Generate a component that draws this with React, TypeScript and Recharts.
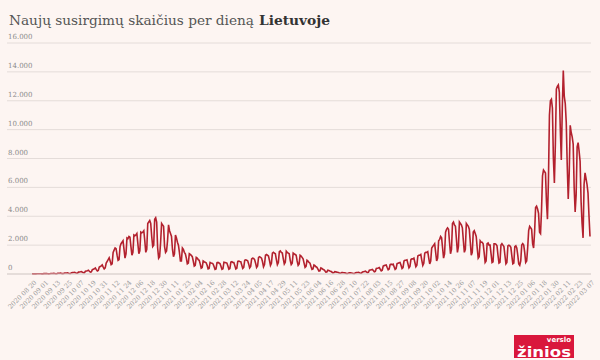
import React from 'react';
import { LineChart, Line, XAxis, YAxis, CartesianGrid } from 'recharts';

// first day of the series, one point per day
const startDay = Date.UTC(2020, 7, 20);

// daily new cases, one row = one week starting on a Thursday
const cases: number[] = [
  14, 12, 9, 6, 8, 17, 21,
  18, 22, 16, 10, 9, 24, 30,
  27, 31, 22, 12, 14, 33, 38,
  35, 42, 30, 18, 20, 48, 52,
  55, 61, 40, 25, 30, 66, 70,
  72, 80, 58, 38, 42, 90, 96,
  101, 112, 80, 52, 60, 130, 140,
  150, 171, 120, 85, 90, 190, 210,
  230, 260, 190, 130, 150, 300, 330,
  360, 420, 300, 210, 250, 480, 520,
  560, 630, 480, 350, 420, 760, 880,
  1000, 1120, 900, 650, 700, 1500, 1650,
  1800, 1750, 1300, 950, 1000, 1900, 2100,
  2200, 2300, 1700, 1100, 1400, 2500, 2450,
  2600, 2550, 1900, 1300, 1500, 2700, 2650,
  2700, 2800, 2100, 1400, 1600, 2900, 2850,
  2900, 3000, 2300, 1500, 1700, 3500, 3600,
  3700, 3500, 2600, 1900, 2000, 3800, 3900,
  3600, 1800, 1100, 1200, 2200, 3500, 3400,
  3300, 1900, 1500, 1600, 2300, 3400, 3000,
  2800, 2600, 1700, 1200, 1400, 2700, 2500,
  2200, 2000, 1500, 900, 900, 1800, 1700,
  1500, 1400, 1100, 700, 750, 1400, 1350,
  1300, 1200, 900, 550, 600, 1150, 1100,
  1000, 950, 700, 400, 450, 900, 850,
  820, 780, 600, 350, 380, 800, 760,
  750, 700, 520, 320, 350, 780, 800,
  760, 720, 540, 320, 360, 820, 800,
  780, 760, 560, 330, 380, 830, 850,
  800, 790, 580, 350, 400, 880, 900,
  870, 850, 620, 380, 450, 950, 980,
  950, 920, 700, 420, 520, 1050, 1100,
  1080, 1000, 750, 450, 550, 1150, 1200,
  1150, 1100, 850, 500, 650, 1300, 1350,
  1300, 1250, 950, 600, 750, 1450, 1500,
  1450, 1400, 1000, 650, 800, 1550, 1600,
  1500, 1450, 1050, 700, 820, 1580, 1500,
  1450, 1400, 950, 650, 750, 1450, 1400,
  1350, 1300, 900, 600, 700, 1300, 1250,
  1150, 1050, 750, 450, 520, 950, 900,
  800, 750, 520, 320, 350, 620, 580,
  500, 460, 330, 200, 220, 420, 380,
  330, 300, 220, 130, 140, 260, 240,
  210, 190, 140, 80, 90, 160, 150,
  130, 120, 90, 50, 55, 100, 95,
  85, 80, 60, 35, 40, 75, 80,
  75, 70, 55, 35, 40, 85, 95,
  100, 110, 80, 50, 60, 140, 160,
  180, 200, 150, 90, 110, 260, 280,
  300, 320, 240, 150, 180, 380, 400,
  420, 450, 330, 220, 260, 550, 580,
  600, 620, 450, 300, 350, 650, 680,
  650, 680, 500, 320, 380, 720, 750,
  780, 800, 600, 380, 450, 900, 950,
  950, 980, 700, 420, 520, 1000, 1050,
  1050, 1100, 800, 500, 600, 1250, 1300,
  1300, 1350, 950, 600, 750, 1450, 1500,
  1500, 1550, 1100, 700, 900, 1800, 1900,
  2000, 2100, 1500, 900, 1100, 2300, 2400,
  2600, 2500, 1800, 1100, 1400, 2900, 3100,
  3200, 3100, 2200, 1400, 1700, 3500, 3600,
  3400, 3300, 2400, 1500, 1900, 3600, 3500,
  3400, 3200, 2300, 1500, 1700, 3500, 3400,
  3300, 3100, 2200, 1300, 1500, 2900, 3000,
  2800, 2600, 1800, 1100, 1200, 2300, 2200,
  2200, 2100, 1500, 800, 900, 2100, 2150,
  2000, 2000, 1400, 800, 850, 2100, 2100,
  2050, 1950, 1300, 750, 800, 2000, 2100,
  2000, 1900, 1300, 700, 800, 1950, 2000,
  1950, 1850, 1250, 700, 750, 1900, 1950,
  1800, 1300, 700, 600, 900, 2000, 2100,
  2000, 1500, 800, 900, 1800, 3000, 3300,
  3200, 3100, 2100, 1800, 2900, 4600, 4700,
  4500, 4200, 2900, 2800, 4400, 6800, 7200,
  7100, 7000, 5000, 3800, 6500, 11000, 12000,
  12100, 11500, 8000, 6300, 9000, 12800, 13000,
  13100, 12600, 10000, 7900, 11500, 14100, 12300,
  11800, 10500, 7500, 5200, 7000, 10300, 9800,
  9500, 9000, 6000, 4300, 5500, 8800, 9100,
  8500, 7800, 5000, 3500, 2500, 6200, 7000,
  6600, 6200, 5600, 4000, 2600,
];

const yTicks = [0, 2000, 4000, 6000, 8000, 10000, 12000, 14000, 16000];

const pad = (n: number) => String(n).padStart(2, '0');
const dayLabel = (i: number) => {
  const d = new Date(startDay + i * 86400000);
  return `${d.getUTCFullYear()} ${pad(d.getUTCMonth() + 1)} ${pad(d.getUTCDate())}`;
};

const data = cases.map((v, i) => ({ date: dayLabel(i), cases: v }));

const serif = '"DejaVu Serif", serif';

const fmt = (v: number) => (v === 0 ? '0' : `${Math.floor(v / 1000)}.${String(v % 1000).padStart(3, '0')}`);

const YTick = ({ y, payload }: any) => (
  <text x={8} y={y - 4} fontSize={7} fill="#8a8a8a" fontFamily={serif} textAnchor="start">
    {fmt(payload.value)}
  </text>
);

const XTick = ({ x, y, payload }: any) => (
  <g transform={`translate(${x + 5},${y + 1})`}>
    <text textAnchor="end" transform="rotate(-45)" fontSize={6.5} fill="#9a9a9a" fontFamily={serif}>
      {payload.value}
    </text>
  </g>
);

export default function App() {
  return (
    <div style={{ position: 'relative', width: 600, height: 360, background: '#fdf5f2' }}>
      <style>{'body{margin:0;background:#fdf5f2}'}</style>
      <LineChart width={600} height={360} data={data} margin={{ top: 43, right: 9, left: 7, bottom: 26 }}>
        <CartesianGrid vertical={false} stroke="#e4dcd9" />
        <XAxis
          dataKey="date"
          interval={11}
          height={60}
          padding={{ left: 25, right: 1 }}
          axisLine={{ stroke: '#d9d0cd' }}
          tickLine={false}
          tick={<XTick />}
        />
        <YAxis
          width={1}
          mirror
          domain={[0, 16000]}
          ticks={yTicks}
          interval={0}
          axisLine={false}
          tickLine={false}
          tick={<YTick />}
        />
        <Line
          type="linear"
          dataKey="cases"
          stroke="#b3212e"
          strokeWidth={1.6}
          dot={false}
          isAnimationActive={false}
        />
      </LineChart>
      <svg width={600} height={360} style={{ position: 'absolute', left: 0, top: 0, pointerEvents: 'none' }}>
        <text x={9} y={25} fontSize={13.5} fill="#555" fontFamily={serif} textLength={245} lengthAdjust="spacingAndGlyphs">
          Naujų susirgimų skaičius per dieną
        </text>
        <text x={259} y={25} fontSize={13.5} fontWeight="bold" fill="#333" fontFamily={serif} textLength={71} lengthAdjust="spacingAndGlyphs">
          Lietuvoje
        </text>
        <rect x={514} y={335} width={60} height={23} fill="#d9173c" />
        <text x={571} y={341.5} textAnchor="end" fontSize={7} fontWeight="bold" fill="#fff" fontFamily='"DejaVu Sans", sans-serif'>
          verslo
        </text>
        <text x={544} y={357} textAnchor="middle" fontSize={14.5} fontWeight="bold" fill="#fff" fontFamily='"DejaVu Sans", sans-serif' textLength={54} lengthAdjust="spacingAndGlyphs">
          žinios
        </text>
      </svg>
    </div>
  );
}
